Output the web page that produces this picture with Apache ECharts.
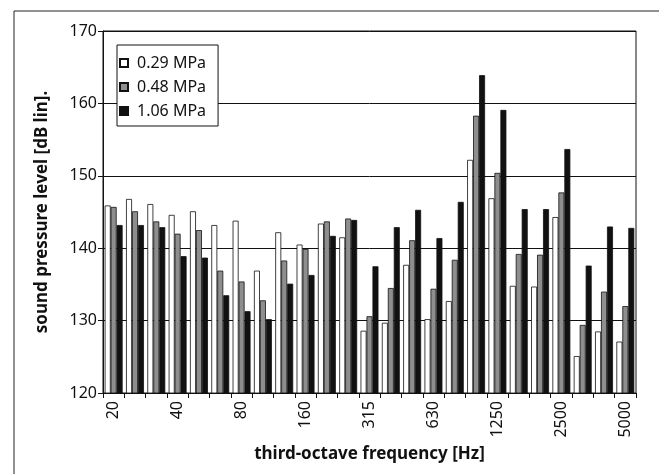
<!DOCTYPE html>
<html>
<head>
<meta charset="utf-8">
<script src="https://cdn.jsdelivr.net/npm/echarts@6/dist/echarts.min.js"></script>
<style>html,body{margin:0;padding:0;background:#fff}#c{width:659px;height:474px}</style>
</head>
<body>
<div id="c"></div>
<script>
var categories = ['20','25','31.5','40','50','63','80','100','125','160','200','250','315','400','500','630','800','1000','1250','1600','2000','2500','3150','4000','5000'];
var seriesNames = ['0.29 MPa','0.48 MPa','1.06 MPa'];
var p029 = [145.9,146.8,146.1,144.6,145.1,143.2,143.8,136.9,142.2,140.5,143.4,141.5,128.6,129.7,137.7,130.2,132.7,152.2,146.9,134.8,134.7,144.3,125.1,128.5,127.1];
var p048 = [145.7,145.1,143.7,142.0,142.5,136.9,135.4,132.8,138.3,139.9,143.7,144.1,130.6,134.5,141.1,134.4,138.4,158.3,150.4,139.2,139.1,147.7,129.4,134.0,132.0];
var p106 = [143.2,143.2,142.9,138.9,138.7,133.5,131.3,130.2,135.1,136.3,141.7,143.9,137.5,142.9,145.3,141.4,146.4,163.9,159.1,145.4,145.4,153.7,137.6,143.0,142.8];
var yTicks = [120,130,140,150,160,170];

var FONT = '"Noto Sans", sans-serif';
var chart = echarts.init(document.getElementById('c'), null, {renderer:'canvas'});
var colors = ['#ffffff','#8e8e8e','#111111'];
var data = [p029,p048,p106];
chart.setOption({
  animation:false,
  backgroundColor:'#fff',
  graphic:[{type:'rect',shape:{x:14,y:11,width:700,height:500},style:{fill:'none',stroke:'#222',lineWidth:1},silent:true}],
  grid:{left:103,right:23,top:31,bottom:81,show:true,borderColor:'#111',borderWidth:1,backgroundColor:'transparent'},
  legend:{
    orient:'vertical',left:117,top:45,
    data:seriesNames,
    icon:'path://M0,0H10V10H0Z',
    itemWidth:16,itemHeight:8,itemGap:8,
    padding:[10,12,7,2],
    borderColor:'#111',borderWidth:1,backgroundColor:'#fff',
    textStyle:{fontFamily:FONT,fontSize:16,color:'#111'},
    selectedMode:false
  },
  xAxis:{
    type:'category',data:categories,
    name:'third-octave frequency [Hz]',nameLocation:'middle',nameGap:53,
    nameTextStyle:{fontFamily:FONT,fontSize:17,fontWeight:'bold',color:'#111'},
    axisLine:{lineStyle:{color:'#111',width:1}},
    axisTick:{show:true,length:5,inside:false,alignWithLabel:false,interval:0,lineStyle:{color:'#111'}},
    axisLabel:{interval:2,rotate:90,margin:8,fontFamily:FONT,fontSize:16,color:'#111'},
    splitLine:{show:false}
  },
  yAxis:{
    type:'value',min:120,max:170,interval:10,
    name:'sound pressure level [dB lin].',nameLocation:'middle',nameGap:52,
    nameTextStyle:{fontFamily:FONT,fontSize:17,fontWeight:'bold',color:'#111'},
    axisLine:{show:true,lineStyle:{color:'#111',width:1}},
    axisTick:{show:true,length:5,inside:false,lineStyle:{color:'#111'}},
    axisLabel:{margin:6,fontFamily:FONT,fontSize:16,color:'#111',
      formatter:function(v){return yTicks.indexOf(v)>=0?String(v):'';}},
    splitLine:{show:true,lineStyle:{color:'#111',width:1}}
  },
  series:seriesNames.map(function(n,i){
    return {name:n,type:'bar',data:data[i],barGap:'0%',barCategoryGap:'16%',
      itemStyle:{color:colors[i],borderColor:'#111',borderWidth:0.8}};
  })
});
</script>
</body>
</html>
